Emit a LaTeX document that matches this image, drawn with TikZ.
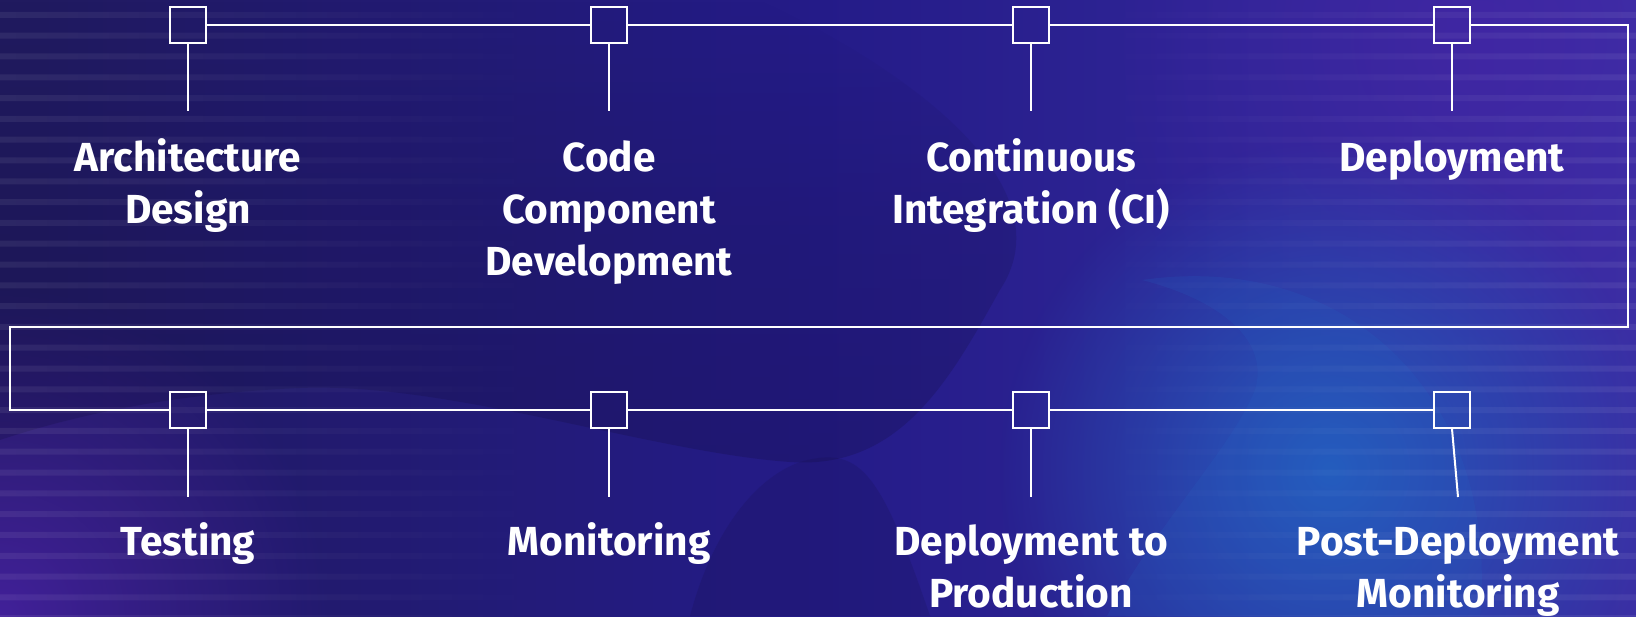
\documentclass[tikz,border=0pt]{standalone}
\usepackage{fontspec}
\setmainfont{Fira Sans}
\usetikzlibrary{positioning,fadings}

\definecolor{bgdark}{HTML}{201A5E}
\definecolor{bgmid}{HTML}{241B88}
\definecolor{bgright}{HTML}{3A2FA4}
\definecolor{bgpurple}{HTML}{4A22A8}
\definecolor{glowblue}{HTML}{2462C2}
\definecolor{blobdark}{HTML}{140E44}

\tikzfading[name=fadeleft, left color=transparent!0, right color=transparent!100]
\tikzfading[name=faderight, left color=transparent!100, right color=transparent!0]
\tikzfading[name=fadeup, top color=transparent!100, bottom color=transparent!0, middle color=transparent!30]
\tikzfading[name=softglow, inner color=transparent!0, outer color=transparent!100]

\tikzset{
  stepbox/.style={draw=white, line width=1pt, minimum size=18pt, inner sep=0pt},
  steplabel/.style={text=white, align=center, anchor=base, inner sep=0pt,
    font=\fontsize{20.3}{26}\selectfont\bfseries},
  link/.style={draw=white, line width=1pt},
}

\begin{document}
\begin{tikzpicture}[x=0.5pt, y=-0.5pt]
    \useasboundingbox (0,0) rectangle (1636,616);

    % Background
    \fill[left color=bgdark, right color=bgright, middle color=bgmid] (0,0) rectangle (1636,616);
    \fill[bgpurple, path fading=softglow, opacity=0.8] (0,616) circle (330);
    \fill[bgpurple, path fading=softglow, opacity=0.5] (1480,40) circle (380);
    \fill[blobdark, opacity=0.28, path fading=fadeup] (0,0) -- (760,0) .. controls (950,90) and (1060,200) .. (1000,290)
        .. controls (950,380) and (900,470) .. (790,462) .. controls (650,452) and (450,382) .. (300,388)
        .. controls (160,394) and (60,420) .. (0,440) -- cycle;
    \fill[blobdark, opacity=0.18] (690,616) .. controls (710,540) and (750,480) .. (800,462)
        .. controls (860,445) and (880,470) .. (930,616) -- cycle;
    \fill[glowblue, path fading=softglow, opacity=0.9] (1330,470) circle (330);
    \fill[glowblue, opacity=0.18] (1107,616) .. controls (1160,520) and (1230,450) .. (1255,390)
        .. controls (1270,340) and (1220,300) .. (1142,280) .. controls (1350,250) and (1500,400) .. (1480,616) -- cycle;

    % Stripes
    \fill[white, opacity=0.07, path fading=fadeleft]
        \foreach \k in {0,...,29} { (0,{12+20.8*\k}) rectangle (560,{18+20.8*\k}) };
    \fill[white, opacity=0.07, path fading=faderight]
        \foreach \k in {0,...,29} { (1080,{12+20.8*\k}) rectangle (1636,{18+20.8*\k}) };

    % Steps, top row
    \node[stepbox] (b-arch) at (188,25) {};
    \node[stepbox] (b-code) at (609,25) {};
    \node[stepbox] (b-ci) at (1031,25) {};
    \node[stepbox] (b-deploy) at (1452,25) {};

    % Steps, bottom row
    \node[stepbox] (b-test) at (188,410) {};
    \node[stepbox] (b-mon) at (609,410) {};
    \node[stepbox] (b-prod) at (1031,410) {};
    \node[stepbox] (b-post) at (1452,410) {};

    % Corners of the loop and stem ends
    \coordinate (c-tr) at (1628,25);
    \coordinate (c-br) at (1628,327);
    \coordinate (c-bl) at (10,327);
    \coordinate (c-lo) at (10,410);
    \coordinate (s-arch) at (188,111);
    \coordinate (s-code) at (609,111);
    \coordinate (s-ci) at (1031,111);
    \coordinate (s-deploy) at (1452,111);
    \coordinate (s-test) at (188,497);
    \coordinate (s-mon) at (609,497);
    \coordinate (s-prod) at (1031,497);
    \coordinate (s-post) at (1458,497);

    % Timeline
    \draw[link] (b-arch) -- (b-code) -- (b-ci) -- (b-deploy);
    \draw[link] (b-deploy.east) -- (c-tr) -- (c-br) -- (c-bl) -- (c-lo) -- (b-test.west);
    \draw[link] (b-test) -- (b-mon) -- (b-prod) -- (b-post);

    % Stems
    \draw[link] (b-arch.south) -- (s-arch);
    \draw[link] (b-code.south) -- (s-code);
    \draw[link] (b-ci.south) -- (s-ci);
    \draw[link] (b-deploy.south) -- (s-deploy);
    \draw[link] (b-test.south) -- (s-test);
    \draw[link] (b-mon.south) -- (s-mon);
    \draw[link] (b-prod.south) -- (s-prod);
    \draw[link] (b-post.south) -- (s-post);

    % Labels (base = last line)
    \node[steplabel] (l-arch) at (188,223) {Architecture\\Design};
    \node[steplabel] (l-code) at (609,275) {Code\\Component\\Development};
    \node[steplabel] (l-ci) at (1031,223) {Continuous\\Integration (CI)};
    \node[steplabel] (l-deploy) at (1452,171) {Deployment};
    \node[steplabel] (l-test) at (188,555) {Testing};
    \node[steplabel] (l-mon) at (609,555) {Monitoring};
    \node[steplabel] (l-prod) at (1031,607) {Deployment to\\Production};
    \node[steplabel] (l-post) at (1458,607) {Post-Deployment\\Monitoring};
\end{tikzpicture}
\end{document}
